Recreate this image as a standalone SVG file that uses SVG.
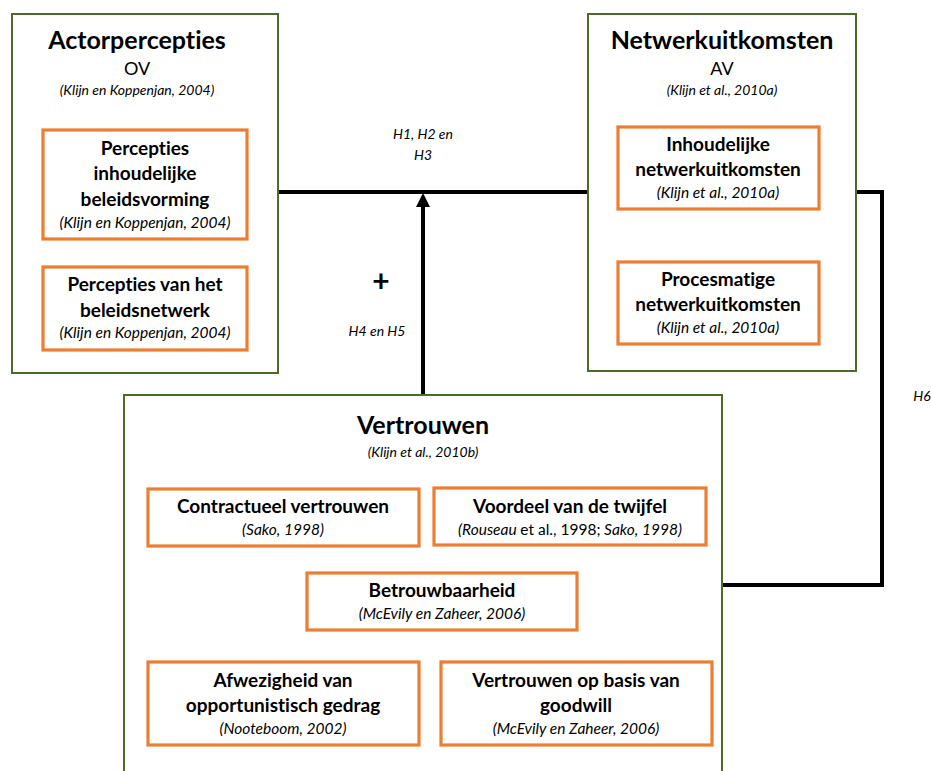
<svg xmlns="http://www.w3.org/2000/svg" width="931" height="771" viewBox="0 0 931 771">
<defs>
<style>
text{font-family:Lato,"Open Sans","Liberation Sans",sans-serif;fill:#000;text-anchor:middle;font-variant-ligatures:none}
.grp{fill:#fff;stroke:#4a6b2a;stroke-width:2}
.sub{fill:#fff;stroke:#ed7d31;stroke-width:3.2}
.t1{font-size:25px;font-weight:bold}
.t2{font-size:19px;font-weight:bold}
.av{font-size:18px}
.ci{font-size:15.5px;font-style:italic}
.cs{font-size:14px;font-style:italic}
.lab{font-size:14px;font-style:italic}
.con{fill:none;stroke:#000;stroke-width:4}
</style>
</defs>
<rect width="931" height="771" fill="#fff"/>
<g id="connectors">
<path class="con" d="M278,192 H588"/>
<path class="con" d="M423,395 V204"/>
<polygon points="423,193 430,207 416,207" fill="#000"/>
<path class="con" d="M856,192 H882 V585 H722"/>
</g>
<g id="labels">
<text class="lab" x="423" y="139">H1, H2 en</text>
<text class="lab" x="423" y="160">H3</text>
<text x="381" y="292" style="font-size:30px;font-weight:bold">+</text>
<text class="lab" x="377" y="336">H4 en H5</text>
<text class="lab" x="922" y="401">H6</text>
</g>
<g id="actorpercepties">
<rect class="grp" x="12" y="14" width="266" height="359"/>
<text class="t1" x="137" y="49">Actorpercepties</text>
<text class="av" x="137" y="75">OV</text>
<text class="cs" x="137" y="95">(Klijn en Koppenjan, 2004)</text>
</g>
<g id="percepties-inhoudelijk">
<rect class="sub" x="43" y="130" width="204" height="109"/>
<text class="t2" x="145" y="155">Percepties</text>
<text class="t2" x="145" y="180">inhoudelijke</text>
<text class="t2" x="145" y="206">beleidsvorming</text>
<text class="ci" x="145" y="228">(Klijn en Koppenjan, 2004)</text>
</g>
<g id="percepties-netwerk">
<rect class="sub" x="43" y="267" width="204" height="83"/>
<text class="t2" x="145" y="291">Percepties van het</text>
<text class="t2" x="145" y="317">beleidsnetwerk</text>
<text class="ci" x="145" y="338">(Klijn en Koppenjan, 2004)</text>
</g>
<g id="netwerkuitkomsten">
<rect class="grp" x="588" y="14" width="268" height="357"/>
<text class="t1" x="722" y="49">Netwerkuitkomsten</text>
<text class="av" x="722" y="75">AV</text>
<text class="cs" x="722" y="95">(Klijn et al., 2010a)</text>
</g>
<g id="inhoudelijke">
<rect class="sub" x="618" y="127" width="201" height="82"/>
<text class="t2" x="718" y="151">Inhoudelijke</text>
<text class="t2" x="718" y="176">netwerkuitkomsten</text>
<text class="ci" x="718" y="198">(Klijn et al., 2010a)</text>
</g>
<g id="procesmatige">
<rect class="sub" x="618" y="262" width="201" height="82"/>
<text class="t2" x="718" y="286">Procesmatige</text>
<text class="t2" x="718" y="311">netwerkuitkomsten</text>
<text class="ci" x="718" y="333">(Klijn et al., 2010a)</text>
</g>
<g id="vertrouwen">
<rect class="grp" x="124" y="395" width="598" height="390"/>
<text class="t1" x="423" y="434">Vertrouwen</text>
<text class="cs" x="423" y="457">(Klijn et al., 2010b)</text>
</g>
<g id="contractueel">
<rect class="sub" x="148" y="489" width="271" height="57"/>
<text class="t2" x="283" y="513">Contractueel vertrouwen</text>
<text class="ci" x="283" y="535">(Sako, 1998)</text>
</g>
<g id="voordeel">
<rect class="sub" x="434" y="488" width="272" height="57"/>
<text class="t2" x="570" y="513">Voordeel van de twijfel</text>
<text class="ci" x="570" y="535">(Rouseau <tspan font-style="normal">et al., 1998;</tspan> Sako, 1998)</text>
</g>
<g id="betrouwbaarheid">
<rect class="sub" x="307" y="573" width="270" height="57"/>
<text class="t2" x="442" y="597">Betrouwbaarheid</text>
<text class="ci" x="442" y="619">(McEvily en Zaheer, 2006)</text>
</g>
<g id="afwezigheid">
<rect class="sub" x="148" y="662" width="271" height="83"/>
<text class="t2" x="283" y="687">Afwezigheid van</text>
<text class="t2" x="283" y="712">opportunistisch gedrag</text>
<text class="ci" x="283" y="734">(Nooteboom, 2002)</text>
</g>
<g id="goodwill">
<rect class="sub" x="441" y="662" width="271" height="83"/>
<text class="t2" x="576" y="687">Vertrouwen op basis van</text>
<text class="t2" x="576" y="712">goodwill</text>
<text class="ci" x="576" y="734">(McEvily en Zaheer, 2006)</text>
</g>
</svg>
